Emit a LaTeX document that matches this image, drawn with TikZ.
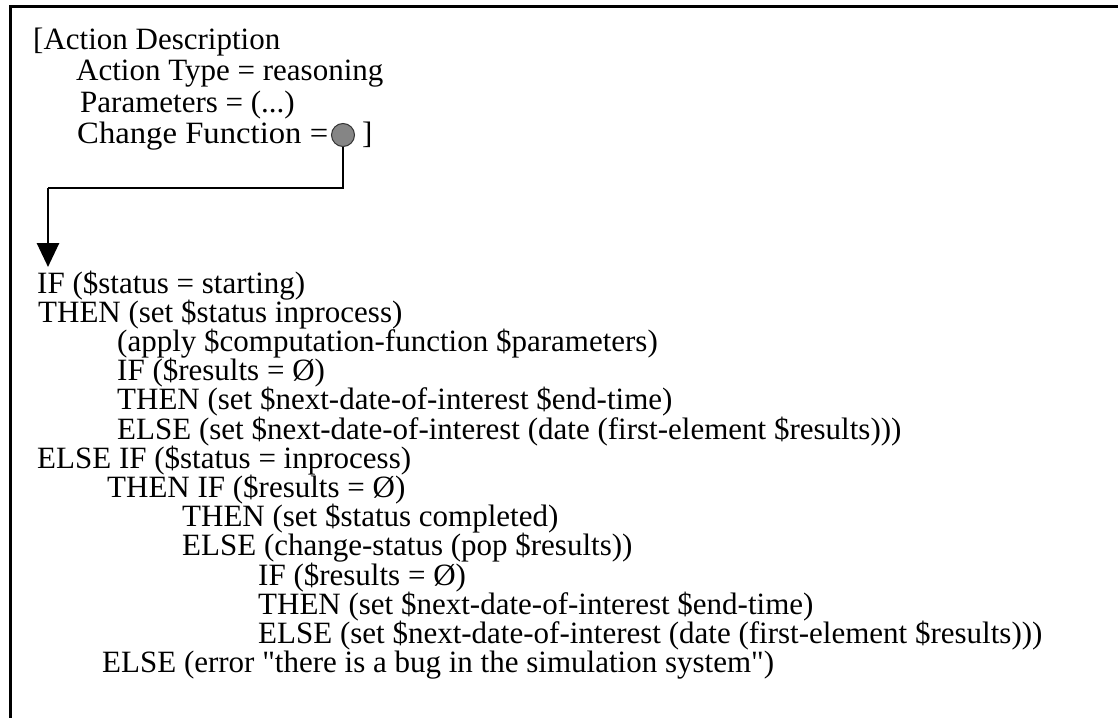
\documentclass[tikz,border=0pt]{standalone}
\usepackage{fontspec}
\setmainfont{Liberation Serif}[Ligatures=TeXOff]
\usetikzlibrary{arrows.meta}
\begin{document}
\begin{tikzpicture}[x=1pt,y=-1pt,
  code/.style={anchor=base west, inner sep=0pt, font=\fontsize{31}{32}\selectfont},
  frame/.style={line width=3pt, line cap=rect},
  conn/.style={line width=2.8pt},
  tipconn/.style={line width=2.8pt, -{Triangle[length=24pt,width=22pt]}},
  ball/.style={circle, minimum size=23pt, inner sep=0pt, fill=black!48, draw=black!80, line width=1pt}]
\useasboundingbox (0,0) rectangle (1118,717);
\fill[white] (0,0) rectangle (1118,717);
\draw[frame] (10,717) -- (10,7) -- (1118,7);
% header
\node[code] (h1) at (33,49) {[Action Description};
\node[code] (h2) at (76,81) {Action Type = reasoning};
\node[code] (h3) at (80,112) {Parameters = (...)};
\node[code] (h4) at (77,143) {\scalebox{1.055}[1]{Change Function =}};
\node[ball] (dot) at (343,135) {};
\node[code] (h5) at (362,143) {]};
% connector
\coordinate (bend) at (48,188);
\coordinate (tip) at (48,267);
\draw[conn] (dot.south) |- (bend);
\draw[tipconn] (bend) -- (tip);
% body
\node[code] (b0) at (37,293) {IF (\$status = starting)};
\node[code] (b1) at (38,322.2) {THEN (set \$status inprocess)};
\node[code] (b2) at (117,351.4) {(apply \$computation-function \$parameters)};
\node[code] (b3) at (117,380.6) {IF (\$results = Ø)};
\node[code] (b4) at (117,409.8) {THEN (set \$next-date-of-interest \$end-time)};
\node[code] (b5) at (117,439) {ELSE (set \$next-date-of-interest (date (first-element \$results)))};
\node[code] (b6) at (37,468.2) {ELSE IF (\$status = inprocess)};
\node[code] (b7) at (107,497.4) {THEN IF (\$results = Ø)};
\node[code] (b8) at (182,526.6) {THEN (set \$status completed)};
\node[code] (b9) at (182,555.8) {ELSE (change-status (pop \$results))};
\node[code] (b10) at (258,585) {IF (\$results = Ø)};
\node[code] (b11) at (258,614.2) {THEN (set \$next-date-of-interest \$end-time)};
\node[code] (b12) at (258,643.4) {ELSE (set \$next-date-of-interest (date (first-element \$results)))};
\node[code] (b13) at (102,672.6) {ELSE (error "there is a bug in the simulation system")};
\end{tikzpicture}
\end{document}
